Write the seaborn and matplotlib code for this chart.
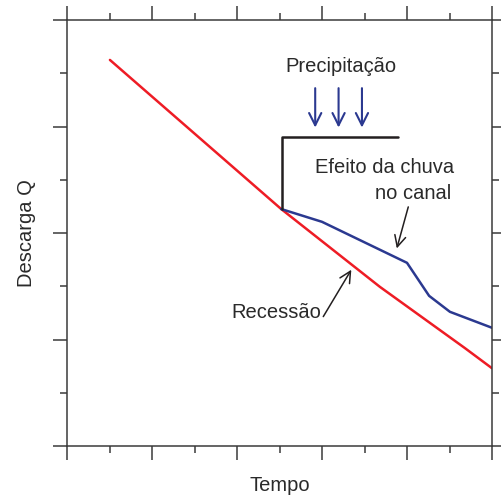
import matplotlib
matplotlib.use("Agg")
import matplotlib.pyplot as plt
import seaborn as sns
import numpy as np

# Hydrograph: baseflow recession and the effect of rain falling on the channel
recessao_t = [1.01, 5.04, 7.36, 9.36, 10.0]
recessao_q = [7.25, 4.45, 2.99, 1.84, 1.46]

chuva_t = [5.04, 6.00, 8.00, 8.52, 9.01, 10.0]
chuva_q = [4.45, 4.21, 3.44, 2.82, 2.52, 2.22]

evento_t = [5.06, 5.06, 7.79]
evento_q = [4.45, 5.81, 5.81]

precip_t = [5.84, 6.39, 6.94]
precip_topo, precip_base = 6.72, 5.98

rotulo_x = "Tempo"
rotulo_y = "Descarga Q"

sns.set_style("white")
plt.rcParams["font.family"] = ["Liberation Sans", "DejaVu Sans"]

RED = "#ee1c25"
BLUE = "#2b3990"
INK = "#2a2a2a"
BLACK = "#231f20"
AXC = "#3a3a3a"
FS = 14.5

fig = plt.figure(figsize=(5.01, 4.98), dpi=100)
ax = fig.add_axes([67 / 501, 52 / 498, 425 / 501, 426 / 498])

sns.lineplot(x=recessao_t, y=recessao_q, ax=ax, color=RED, lw=1.8,
             sort=False, estimator=None)
sns.lineplot(x=chuva_t, y=chuva_q, ax=ax, color=BLUE, lw=1.8,
             sort=False, estimator=None)
sns.lineplot(x=evento_t, y=evento_q, ax=ax, color=BLACK, lw=1.8,
             sort=False, estimator=None)

for t in precip_t:
    ax.annotate("", xy=(t, precip_base), xytext=(t, precip_topo),
                arrowprops=dict(arrowstyle="->", color=BLUE, lw=1.5,
                                mutation_scale=22, shrinkA=0, shrinkB=0))

ax.text(6.44, 7.13, "Precipitação", ha="center", va="center",
        fontsize=FS, color=INK)

ax.text(9.12, 5.23, "Efeito da chuva", ha="right", va="center",
        fontsize=FS, color=INK)
ax.text(9.05, 4.74, "no canal", ha="right", va="center",
        fontsize=FS, color=INK)
ax.annotate("", xy=(7.76, 3.71), xytext=(8.03, 4.49),
            arrowprops=dict(arrowstyle="->", color=BLACK, lw=1.1,
                            mutation_scale=20, shrinkA=0, shrinkB=0))

ax.text(4.93, 2.50, "Recessão", ha="center", va="center",
        fontsize=FS, color=INK)
ax.annotate("", xy=(6.69, 3.31), xytext=(6.03, 2.43),
            arrowprops=dict(arrowstyle="->", color=BLACK, lw=1.1,
                            mutation_scale=20, shrinkA=0, shrinkB=0))

ax.set_xlim(0, 10)
ax.set_ylim(0, 8)
ax.set_xticks(np.arange(0, 11, 2))
ax.set_xticks(np.arange(1, 10, 2), minor=True)
ax.set_yticks(np.arange(0, 9, 2))
ax.set_yticks(np.arange(1, 8, 2), minor=True)
ax.tick_params(which="both", direction="out", color=AXC, width=1.1,
               top=True, right=True, bottom=True, left=True,
               labelbottom=False, labelleft=False)
ax.tick_params(which="major", length=10)
ax.tick_params(which="minor", length=5)
for s in ax.spines.values():
    s.set_visible(True)
    s.set_color(AXC)
    s.set_linewidth(1.1)

ax.set_xlabel(rotulo_x, fontsize=FS, color=INK)
ax.set_ylabel(rotulo_y, fontsize=FS, color=INK)
ax.xaxis.label.set_va("center")
ax.yaxis.label.set_va("center")
ax.xaxis.set_label_coords(0.5, (446 - 485) / 426)
ax.yaxis.set_label_coords((26 - 67) / 425, 0.5)

fig.savefig("out.png", dpi=100, facecolor="white")
